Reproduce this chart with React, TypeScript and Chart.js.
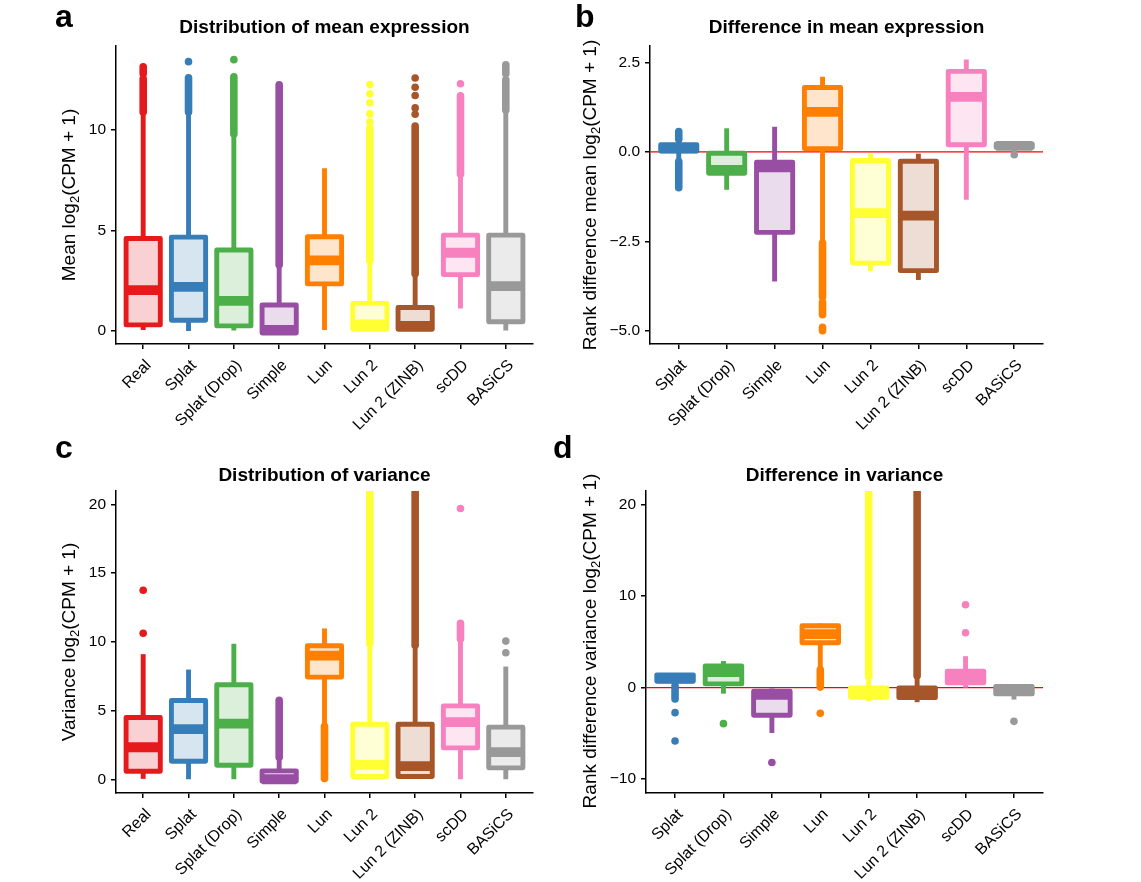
import React, { useEffect, useRef } from 'react';
import { Chart, registerables } from 'chart.js';

Chart.register(...registerables);

const FONT = "'Liberation Sans', Arial, Helvetica, sans-serif";

// ---------- categories & colours ----------
const catsAll = ['Real', 'Splat', 'Splat (Drop)', 'Simple', 'Lun', 'Lun 2', 'Lun 2 (ZINB)', 'scDD', 'BASiCS'];
const catsSim = ['Splat', 'Splat (Drop)', 'Simple', 'Lun', 'Lun 2', 'Lun 2 (ZINB)', 'scDD', 'BASiCS'];
const colorsAll = ['#E41A1C', '#377EB8', '#4DAF4A', '#984EA3', '#FF7F00', '#FFFF33', '#A65628', '#F781BF', '#999999'];
const colorsSim = colorsAll.slice(1);

// ---------- a: distribution of mean expression ----------
const meanQ1 = [0.3, 0.53, 0.25, -0.1, 2.34, 0.08, 0.08, 2.8, 0.46];
const meanMed = [2.03, 2.19, 1.5, 0.05, 3.51, 0.33, 0.25, 3.89, 2.23];
const meanQ3 = [4.6, 4.67, 4.03, 1.29, 4.69, 1.37, 1.17, 4.77, 4.77];
const meanLo = [0.05, 0.0, 0.02, -0.1, 0.05, 0.0, 0.0, 1.12, 0.02];
const meanHi = [10.9, 10.9, 9.8, 3.3, 8.1, 3.5, 2.85, 7.8, 11.0];
const meanBands = [[0, 10.9, 12.55], [0, 12.8, 13.15], [1, 10.9, 12.6], [2, 9.8, 12.65], [3, 3.3, 12.25], [5, 3.5, 10.1], [6, 2.85, 10.2], [7, 7.8, 11.7], [8, 11.0, 12.5], [8, 12.8, 13.25]];
const meanOut = [[1, 13.4], [2, 13.5], [5, 10.4], [5, 10.8], [5, 11.35], [5, 11.8], [5, 12.26], [6, 10.78], [6, 11.1], [6, 11.72], [6, 12.13], [6, 12.59], [7, 12.3]];
const meanTicks = [0, 5, 10];
const meanTickLabels = ['0', '5', '10'];

// ---------- b: difference in mean expression ----------
const mdQ1 = [0.0, -0.6, -2.25, 0.09, -3.11, -3.32, 0.2, 0.12];
const mdMed = [0.1, -0.5, -0.43, 1.12, -1.71, -1.78, 1.54, 0.17];
const mdQ3 = [0.2, -0.04, -0.29, 1.8, -0.24, -0.26, 2.25, 0.22];
const mdLo = [-0.27, -1.06, -3.62, -2.5, -3.33, -3.58, -1.34, -0.05];
const mdHi = [0.35, 0.66, 0.7, 2.1, -0.05, -0.05, 2.58, 0.3];
const mdBands = [[0, -1.0, -0.27], [0, 0.35, 0.57], [3, -4.05, -2.55], [3, -4.55, -4.2], [3, -5.0, -4.9]];
const mdOut = [[7, -0.08]];
const mdTicks = [2.5, 0, -2.5, -5];
const mdTickLabels = ['2.5', '0.0', '\u22122.5', '\u22125.0'];

// ---------- c: distribution of variance ----------
const varQ1 = [0.58, 1.31, 1.02, -0.15, 7.43, 0.2, 0.2, 2.28, 0.83];
const varMed = [2.33, 3.64, 4.05, 0.0, 9.0, 1.04, 0.95, 4.15, 1.97];
const varQ3 = [4.49, 5.73, 6.87, 0.61, 9.71, 4.0, 4.0, 5.34, 3.79];
const varLo = [0.03, 0.0, 0.0, -0.15, 3.9, 0.02, 0.02, 0.0, 0.0];
const varHi = [9.1, 7.98, 9.85, 1.6, 10.97, 9.85, 9.75, 10.0, 8.2];
const varBands = [[3, 1.6, 5.75], [4, 0.05, 3.85], [5, 9.85, 26], [6, 9.75, 26], [7, 10.2, 11.35]];
const varOut = [[0, 10.62], [0, 13.75], [7, 19.7], [8, 9.2], [8, 10.05]];
const varTicks = [0, 5, 10, 15, 20];
const varTickLabels = ['0', '5', '10', '15', '20'];

// ---------- d: difference in variance ----------
const vdQ1 = [0.69, 0.4, -3.03, 4.89, -1.05, -1.1, 0.51, -0.69];
const vdMed = [1.0, 1.68, -0.8, 5.84, -0.5, -0.6, 1.1, -0.3];
const vdQ3 = [1.39, 2.37, -0.4, 6.75, -0.05, -0.05, 1.8, 0.11];
const vdLo = [0.0, -0.66, -4.96, 2.0, -1.46, -1.6, 0.0, -1.31];
const vdHi = [1.4, 2.9, -0.1, 7.0, 1.2, 1.3, 3.43, 0.11];
const vdBands = [[0, -1.25, 0.2], [3, 0.05, 1.95], [4, 1.2, 26], [5, 1.3, 26]];
const vdOut = [[0, -2.74], [0, -5.84], [1, -3.94], [2, -8.18], [3, -2.81], [6, 5.99], [6, 9.05], [7, -3.69]];
const vdTicks = [-10, 0, 10, 20];
const vdTickLabels = ['\u221210', '0', '10', '20'];

// ---------- helpers ----------
function lighten(hex: string, a: number) {
  const n = parseInt(hex.slice(1), 16);
  const r = (n >> 16) & 255, g = (n >> 8) & 255, b = n & 255;
  const m = (c: number) => Math.round(c * a + 255 * (1 - a));
  return `rgb(${m(r)},${m(g)},${m(b)})`;
}

type Panel = {
  key: string; letter: string; title: string;
  yPre: string; ySuf: string;
  cats: string[]; colors: string[];
  q1: number[]; med: number[]; q3: number[]; lo: number[]; hi: number[];
  bands: number[][]; out: number[][];
  ticks: number[]; tickLabels: string[];
  yMin: number; yMax: number; zeroLine: boolean;
  left: number; top: number; w: number; h: number;
  area: { left: number; top: number; right: number; bottom: number };
  letterX: number; letterY: number; titleY: number; yTitleX: number; yTitleY: number;
};

const LW = 4.9;

const panels: Panel[] = [
  {
    key: 'a', letter: 'a', title: 'Distribution of mean expression', yPre: 'Mean log', ySuf: '(CPM + 1)',
    cats: catsAll, colors: colorsAll, q1: meanQ1, med: meanMed, q3: meanQ3, lo: meanLo, hi: meanHi,
    bands: meanBands, out: meanOut, ticks: meanTicks, tickLabels: meanTickLabels,
    yMin: -0.65, yMax: 14.18, zeroLine: false,
    left: 0, top: 0, w: 545, h: 430, area: { left: 116, top: 46, right: 533, bottom: 344 },
    letterX: 55, letterY: 27, titleY: 33, yTitleX: 74.5, yTitleY: 195,
  },
  {
    key: 'b', letter: 'b', title: 'Difference in mean expression', yPre: 'Rank difference mean log', ySuf: '(CPM + 1)',
    cats: catsSim, colors: colorsSim, q1: mdQ1, med: mdMed, q3: mdQ3, lo: mdLo, hi: mdHi,
    bands: mdBands, out: mdOut, ticks: mdTicks, tickLabels: mdTickLabels,
    yMin: -5.37, yMax: 2.96, zeroLine: true,
    left: 545, top: 0, w: 596, h: 430, area: { left: 105, top: 46, right: 498, bottom: 344 },
    letterX: 30, letterY: 27, titleY: 33, yTitleX: 51, yTitleY: 195,
  },
  {
    key: 'c', letter: 'c', title: 'Distribution of variance', yPre: 'Variance log', ySuf: '(CPM + 1)',
    cats: catsAll, colors: colorsAll, q1: varQ1, med: varMed, q3: varQ3, lo: varLo, hi: varHi,
    bands: varBands, out: varOut, ticks: varTicks, tickLabels: varTickLabels,
    yMin: -1.0, yMax: 20.97, zeroLine: false,
    left: 0, top: 430, w: 545, h: 452, area: { left: 116, top: 61, right: 533, bottom: 363 },
    letterX: 55, letterY: 28, titleY: 50.5, yTitleX: 74.5, yTitleY: 212,
  },
  {
    key: 'd', letter: 'd', title: 'Difference in variance', yPre: 'Rank difference variance log', ySuf: '(CPM + 1)',
    cats: catsSim, colors: colorsSim, q1: vdQ1, med: vdMed, q3: vdQ3, lo: vdLo, hi: vdHi,
    bands: vdBands, out: vdOut, ticks: vdTicks, tickLabels: vdTickLabels,
    yMin: -11.52, yMax: 21.48, zeroLine: true,
    left: 545, top: 430, w: 596, h: 452, area: { left: 101, top: 61, right: 498, bottom: 363 },
    letterX: 8, letterY: 28, titleY: 50.5, yTitleX: 51, yTitleY: 211,
  },
];

function buildDatasets(p: Panel) {
  const ds: any[] = [];
  // whiskers
  p.cats.forEach((_, i) => {
    ds.push({
      type: 'line', data: [{ x: i, y: p.lo[i] }, { x: i, y: p.hi[i] }],
      borderColor: p.colors[i], borderWidth: LW, borderCapStyle: 'butt', pointRadius: 0,
      fill: false, tension: 0, order: 2, clip: 0,
    });
  });
  // dense outlier bands
  p.bands.forEach(([c, a, b]) => {
    ds.push({
      type: 'line', data: [{ x: c, y: a }, { x: c, y: b }],
      borderColor: p.colors[c], borderWidth: 7.6, borderCapStyle: 'round', pointRadius: 0,
      fill: false, tension: 0, order: 2, clip: 0,
    });
  });
  // single outliers
  ds.push({
    type: 'scatter', data: p.out.map(([c, v]) => ({ x: c, y: v })),
    pointRadius: 3.8, pointBorderWidth: 0,
    pointBackgroundColor: p.out.map(([c]) => p.colors[c]), showLine: false, order: 1,
  });
  // boxes (fill); outline + median drawn from the bar elements
  ds.push({
    type: 'bar', data: p.cats.map((_, i) => ({ x: i, y: [p.q1[i], p.q3[i]] })),
    backgroundColor: p.colors.map((c) => lighten(c, 0.2)), borderWidth: 0,
    grouped: false, barPercentage: 0.755, categoryPercentage: 1, order: 0,
  });
  return ds;
}

function panelPlugin(p: Panel) {
  return {
    id: 'panel_' + p.key,
    beforeDatasetsDraw(chart: any) {
      if (!p.zeroLine) return;
      const { ctx, chartArea } = chart;
      const y = chart.scales.y.getPixelForValue(0);
      ctx.save();
      ctx.strokeStyle = '#FF0000';
      ctx.lineWidth = 1.3;
      ctx.beginPath();
      ctx.moveTo(chartArea.left, y);
      ctx.lineTo(chartArea.right, y);
      ctx.stroke();
      ctx.restore();
    },
    afterDatasetsDraw(chart: any) {
      const { ctx } = chart;
      const idx = chart.data.datasets.length - 1;
      const meta = chart.getDatasetMeta(idx);
      const ys = chart.scales.y;
      ctx.save();
      meta.data.forEach((el: any, j: number) => {
        const { x, y, base, width } = el.getProps(['x', 'y', 'base', 'width'], true);
        const top = Math.min(y, base);
        const bot = Math.max(y, base);
        ctx.strokeStyle = p.colors[j];
        ctx.lineWidth = LW;
        ctx.lineJoin = 'round';
        ctx.strokeRect(x - width / 2, top, width, bot - top);
        const my = ys.getPixelForValue(p.med[j]);
        ctx.lineWidth = LW * 2;
        ctx.lineCap = 'butt';
        ctx.beginPath();
        ctx.moveTo(x - width / 2, my);
        ctx.lineTo(x + width / 2, my);
        ctx.stroke();
      });
      ctx.restore();
    },
    afterDraw(chart: any) {
      const { ctx, chartArea } = chart;
      const xs = chart.scales.x;
      ctx.save();
      ctx.fillStyle = '#000';
      // rotated category labels (hjust = 1, vjust = 1, angle = 45)
      ctx.font = `16px ${FONT}`;
      ctx.textAlign = 'right';
      ctx.textBaseline = 'alphabetic';
      p.cats.forEach((c, i) => {
        const px = xs.getPixelForValue(i);
        ctx.save();
        ctx.translate(px + 8.5, chartArea.bottom + 22);
        ctx.rotate(-Math.PI / 4);
        ctx.fillText(c, 0, 0);
        ctx.restore();
      });
      // panel letter
      ctx.font = `bold 32px ${FONT}`;
      ctx.textAlign = 'left';
      ctx.fillText(p.letter, p.letterX, p.letterY);
      // title
      ctx.font = `bold 19px ${FONT}`;
      ctx.textAlign = 'center';
      ctx.fillText(p.title, (chartArea.left + chartArea.right) / 2, p.titleY);
      // y-axis title with subscript
      ctx.translate(p.yTitleX, p.yTitleY);
      ctx.rotate(-Math.PI / 2);
      ctx.textAlign = 'left';
      const big = `19px ${FONT}`;
      const small = `13px ${FONT}`;
      ctx.font = big;
      const w1 = ctx.measureText(p.yPre).width;
      const w3 = ctx.measureText(p.ySuf).width;
      ctx.font = small;
      const w2 = ctx.measureText('2').width;
      let x0 = -(w1 + w2 + w3) / 2;
      ctx.font = big;
      ctx.fillText(p.yPre, x0, 0);
      x0 += w1;
      ctx.font = small;
      ctx.fillText('2', x0, 4);
      x0 += w2;
      ctx.font = big;
      ctx.fillText(p.ySuf, x0, 0);
      ctx.restore();
    },
  };
}

function buildOptions(p: Panel) {
  const axisGrid = {
    display: true, drawOnChartArea: false, drawTicks: true, tickLength: 5,
    color: '#000', lineWidth: 1.5, offset: false,
  };
  const axisBorder = { display: true, color: '#000', width: 1.5 };
  return {
    animation: false,
    responsive: false,
    maintainAspectRatio: false,
    events: [],
    layout: { padding: { left: 0, top: p.area.top, right: p.w - p.area.right, bottom: 0 } },
    plugins: { legend: { display: false }, tooltip: { enabled: false }, title: { display: false } },
    scales: {
      x: {
        type: 'linear', min: -0.6, max: p.cats.length - 1 + 0.6, offset: false,
        afterBuildTicks: (s: any) => { s.ticks = p.cats.map((_, i) => ({ value: i })); },
        afterFit: (s: any) => { s.height = p.h - p.area.bottom; },
        ticks: { display: false, autoSkip: false, maxRotation: 0, minRotation: 0 },
        grid: axisGrid, border: axisBorder,
      },
      y: {
        type: 'linear', min: p.yMin, max: p.yMax,
        afterBuildTicks: (s: any) => { s.ticks = p.ticks.map((v) => ({ value: v })); },
        afterFit: (s: any) => { s.width = p.area.left; },
        ticks: {
          padding: 5, color: '#000', font: { family: FONT, size: 15.5 },
          callback: (_v: any, i: number) => p.tickLabels[i],
        },
        grid: axisGrid, border: axisBorder,
      },
    },
  };
}

function PanelChart({ p }: { p: Panel }) {
  const ref = useRef<HTMLCanvasElement | null>(null);
  useEffect(() => {
    if (!ref.current) return;
    const chart = new Chart(ref.current, {
      type: 'bar',
      data: { datasets: buildDatasets(p) },
      options: buildOptions(p) as any,
      plugins: [panelPlugin(p)],
    } as any);
    return () => chart.destroy();
  }, [p]);
  return (
    <canvas
      ref={ref}
      width={p.w}
      height={p.h}
      style={{ position: 'absolute', left: p.left, top: p.top, width: p.w, height: p.h }}
    />
  );
}

export default function App() {
  return (
    <div style={{ position: 'absolute', left: 0, top: 0, width: 1141, height: 882, background: '#fff', overflow: 'hidden' }}>
      {panels.map((p) => (
        <PanelChart key={p.key} p={p} />
      ))}
    </div>
  );
}
